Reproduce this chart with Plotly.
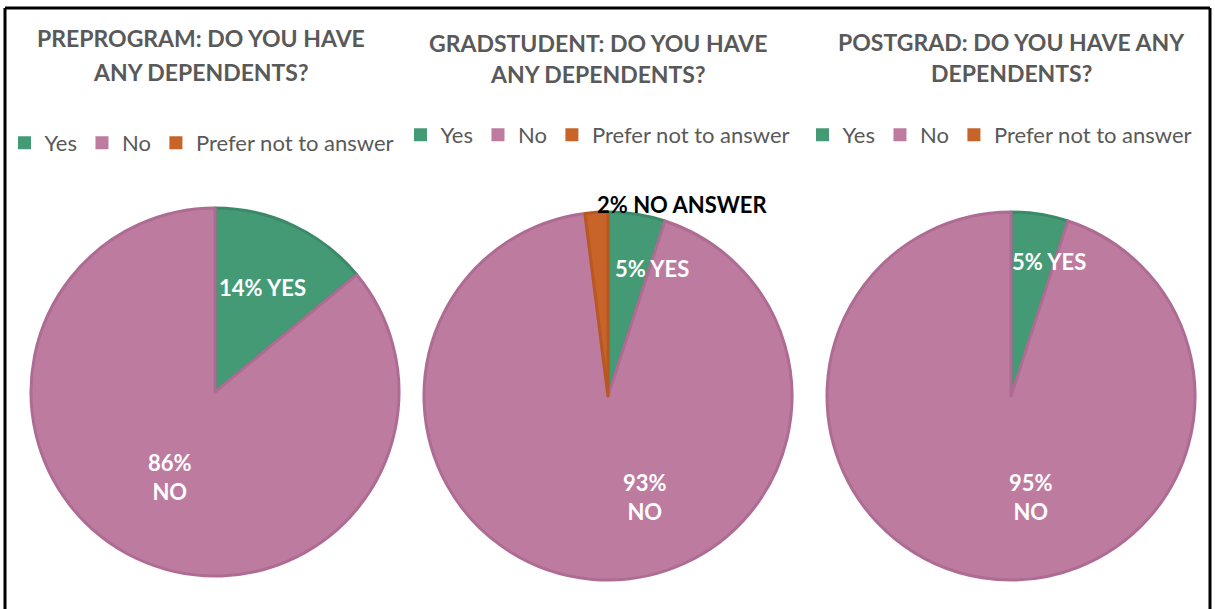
import plotly.graph_objects as go

# Survey answers per stage (percent of respondents)
labels = ["Yes", "No", "Prefer not to answer"]
preprogram = [14, 86, 0]
gradstudent = [5, 93, 2]
postgrad = [5, 95, 0]

titles = [
    ["PREPROGRAM: DO YOU HAVE", "ANY DEPENDENTS?"],
    ["GRADSTUDENT: DO YOU HAVE", "ANY DEPENDENTS?"],
    ["POSTGRAD: DO YOU HAVE ANY", "DEPENDENTS?"],
]

W, H = 1215, 609
fill = ["#449a74", "#be7ba0", "#c8632a"]
edge = ["#3b8a67", "#ae6c92", "#b8581f"]
FONT = "Lato, Open Sans, sans-serif"


def px(x):
    return x / W


def py(y):
    return 1 - y / H


R = 184
centers = [(215, 392), (608, 396), (1011, 396)]
title_pos = [(201, 38, 72), (598, 43, 74), (1011, 42, 73)]
legend_pos = [(202, 143), (598, 135), (1000, 135)]

fig = go.Figure()
series = [preprogram, gradstudent, postgrad]
for i, vals in enumerate(series):
    cx, cy = centers[i]
    # zero-valued answers get no wedge
    keep = [k for k, v in enumerate(vals) if v > 0]
    fig.add_trace(go.Pie(
        labels=[labels[k] for k in keep],
        values=[vals[k] for k in keep],
        sort=False,
        direction="clockwise",
        rotation=0,
        textinfo="none",
        hoverinfo="label+percent",
        marker=dict(colors=[fill[k] for k in keep],
                    line=dict(color=[edge[k] for k in keep], width=3)),
        domain=dict(x=[px(cx - R), px(cx + R)], y=[py(cy + R), py(cy - R)]),
        showlegend=False,
    ))

# One legend per panel, built from marker-only entries
for i in range(3):
    key = "legend" if i == 0 else f"legend{i + 1}"
    for k, lab in enumerate(labels):
        fig.add_trace(go.Scatter(
            x=[None], y=[None], mode="markers", name=lab,
            marker=dict(symbol="square", size=13, color=fill[k]),
            legend=key, showlegend=True, hoverinfo="skip",
        ))

legend_style = dict(
    orientation="h",
    xanchor="center",
    yanchor="middle",
    font=dict(family=FONT, size=22, color="#595959"),
    bgcolor="rgba(0,0,0,0)",
    itemwidth=30,
    traceorder="normal",
)
layout_legends = {}
for i, (lx, ly) in enumerate(legend_pos):
    key = "legend" if i == 0 else f"legend{i + 1}"
    layout_legends[key] = dict(legend_style, x=px(lx), y=py(ly))

annotations = []
for (tx, ty1, ty2), lines in zip(title_pos, titles):
    for ty, line in zip((ty1, ty2), lines):
        annotations.append(dict(
            x=px(tx), y=py(ty), xref="paper", yref="paper", text=f"<b>{line}</b>",
            showarrow=False, xanchor="center", yanchor="middle",
            font=dict(family=FONT, size=23, color="#595959"),
        ))

# Slice labels: (stage index, slice index, text, anchor x, anchor y, colour)
slice_labels = [
    (0, 0, "{v}% YES", 262, 287, "white"),
    (0, 1, "{v}%<br>NO", 170, 477, "white"),
    (1, 0, "{v}% YES", 652, 268, "white"),
    (1, 1, "{v}%<br>NO", 645, 497, "white"),
    (1, 2, "{v}% NO ANSWER", 682, 204, "black"),
    (2, 0, "{v}% YES", 1049, 262, "white"),
    (2, 1, "{v}%<br>NO", 1031, 497, "white"),
]
for s, k, txt, ax, ay, col in slice_labels:
    annotations.append(dict(
        x=px(ax), y=py(ay), xref="paper", yref="paper",
        text="<b>" + txt.format(v=series[s][k]) + "</b>",
        showarrow=False, xanchor="center", yanchor="middle",
        font=dict(family=FONT, size=22, color=col),
    ))

# Outer frame (bottom edge runs off the canvas)
shapes = [
    dict(type="line", xref="paper", yref="paper", x0=px(5), x1=px(5), y0=py(8), y1=py(620),
         line=dict(color="black", width=3)),
    dict(type="line", xref="paper", yref="paper", x0=px(5), x1=px(1210), y0=py(8), y1=py(8),
         line=dict(color="black", width=3)),
    dict(type="line", xref="paper", yref="paper", x0=px(1210), x1=px(1210), y0=py(8), y1=py(620),
         line=dict(color="black", width=3)),
]

fig.update_layout(
    width=W, height=H,
    margin=dict(l=0, r=0, t=0, b=0),
    paper_bgcolor="white",
    plot_bgcolor="white",
    xaxis=dict(visible=False),
    yaxis=dict(visible=False),
    annotations=annotations,
    shapes=shapes,
    **layout_legends,
)

fig.write_html("out.html")
